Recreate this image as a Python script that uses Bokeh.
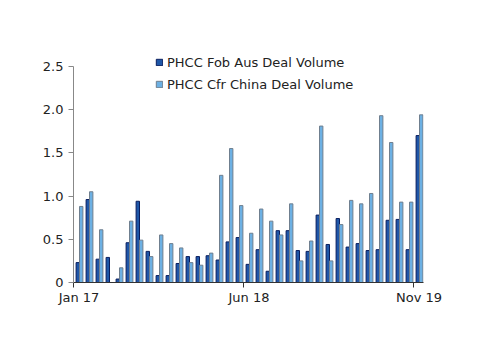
from bokeh.plotting import figure
from bokeh.models import ColumnDataSource, FixedTicker, Legend, LegendItem, Range1d, LinearAxis
from bokeh.embed import file_html
from bokeh.resources import INLINE

months = ["Jan 17","Feb 17","Mar 17","Apr 17","May 17","Jun 17","Jul 17","Aug 17","Sep 17","Oct 17","Nov 17","Dec 17",
          "Jan 18","Feb 18","Mar 18","Apr 18","May 18","Jun 18","Jul 18","Aug 18","Sep 18","Oct 18","Nov 18","Dec 18",
          "Jan 19","Feb 19","Mar 19","Apr 19","May 19","Jun 19","Jul 19","Aug 19","Sep 19","Oct 19","Nov 19"]
fob_aus = [0.23, 0.96, 0.27, 0.29, 0.04, 0.46, 0.94, 0.36, 0.08, 0.08, 0.22, 0.30,
           0.30, 0.31, 0.26, 0.47, 0.52, 0.21, 0.38, 0.13, 0.60, 0.60, 0.37, 0.36,
           0.78, 0.44, 0.74, 0.41, 0.45, 0.37, 0.38, 0.72, 0.73, 0.38, 1.70]
cfr_china = [0.88, 1.05, 0.61, 0.0, 0.17, 0.71, 0.49, 0.30, 0.55, 0.45, 0.40, 0.23,
             0.20, 0.34, 1.24, 1.55, 0.89, 0.57, 0.85, 0.71, 0.55, 0.91, 0.25, 0.48,
             1.81, 0.25, 0.67, 0.95, 0.91, 1.03, 1.93, 1.62, 0.93, 0.93, 1.94]
y_ticks = [0, 0.5, 1.0, 1.5, 2.0, 2.5]
y_tick_labels = ["0", "0.5", "1.0", "1.5", "2.0", "2.5"]
x_tick_labels = {"Jan 17": "Jan 17", "Jun 18": "Jun 18", "Nov 19": "Nov 19"}
series_names = ["PHCC Fob Aus Deal Volume", "PHCC Cfr China Deal Volume"]

idx = list(range(len(months)))
x_dark = [i + 0.43 for i in idx]
x_light = [i + 0.77 for i in idx]
src = ColumnDataSource(dict(xd=x_dark, xl=x_light, fob=fob_aus, cfr=cfr_china))

FONT = "DejaVu Sans"
p = figure(width=500, height=353, output_backend="svg", toolbar_location=None,
           x_range=Range1d(0, len(months)), y_range=Range1d(0, 2.8),
           min_border_left=73, min_border_right=77, min_border_top=40, min_border_bottom=71)
p.outline_line_color = None
p.xgrid.visible = False
p.ygrid.visible = False
p.background_fill_color = "white"
p.border_fill_color = "white"

r1 = p.vbar(x="xd", top="fob", width=0.34, source=src, fill_color="#1F57A8",
            line_color="#0A1E5E", line_width=1)
r2 = p.vbar(x="xl", top="cfr", width=0.34, source=src, fill_color="#6CB0E3",
            line_color="#6F7F8F", line_width=1)

# axis 1: tick marks at category edges, no labels
tick_pos = [months.index(k) for k in x_tick_labels]
p.xaxis.ticker = FixedTicker(ticks=tick_pos)
p.xaxis.major_label_overrides = {t: "" for t in tick_pos}
p.xaxis.major_label_text_font_size = "1px"
p.xaxis.major_label_standoff = 0
p.xaxis.minor_tick_line_color = None
p.xaxis.major_tick_in = 0
p.xaxis.major_tick_out = 5
p.xaxis.axis_line_color = "#333333"
p.xaxis.major_tick_line_color = "#333333"

# axis 2: labels centred on the months
label_pos = [t + 0.55 for t in tick_pos]
ax2 = LinearAxis(ticker=FixedTicker(ticks=label_pos),
                 major_label_overrides={lp: v for lp, v in zip(label_pos, x_tick_labels.values())})
ax2.axis_line_color = None
ax2.major_tick_line_color = None
ax2.minor_tick_line_color = None
ax2.major_tick_in = 0
ax2.major_tick_out = 0
ax2.major_label_text_font = FONT
ax2.major_label_text_font_size = "13px"
ax2.major_label_text_color = "#222222"
ax2.major_label_standoff = 2
p.add_layout(ax2, "below")

p.yaxis.ticker = FixedTicker(ticks=y_ticks)
p.yaxis.bounds = (0, 2.5)
p.yaxis.major_label_overrides = {t: l for t, l in zip(y_ticks, y_tick_labels)}
p.yaxis.minor_tick_line_color = None
p.yaxis.major_tick_in = 0
p.yaxis.major_tick_out = 5
p.yaxis.axis_line_color = "#888888"
p.yaxis.major_tick_line_color = "#888888"
p.yaxis.major_label_text_font = FONT
p.yaxis.major_label_text_font_size = "13px"
p.yaxis.major_label_text_color = "#222222"
p.yaxis.major_label_standoff = 5

legend = Legend(items=[LegendItem(label=series_names[0], renderers=[r1]),
                       LegendItem(label=series_names[1], renderers=[r2])],
                location=(82, 189), orientation="vertical")
legend.label_text_font = FONT
legend.label_text_font_size = "13px"
legend.label_text_color = "#222222"
legend.glyph_width = 8
legend.glyph_height = 8
legend.label_standoff = 4
legend.spacing = 4
legend.padding = 0
legend.margin = 0
legend.border_line_color = None
legend.background_fill_alpha = 0
legend.label_height = 18
p.add_layout(legend, "center")

open("out.html", "w").write(file_html(p, INLINE))
